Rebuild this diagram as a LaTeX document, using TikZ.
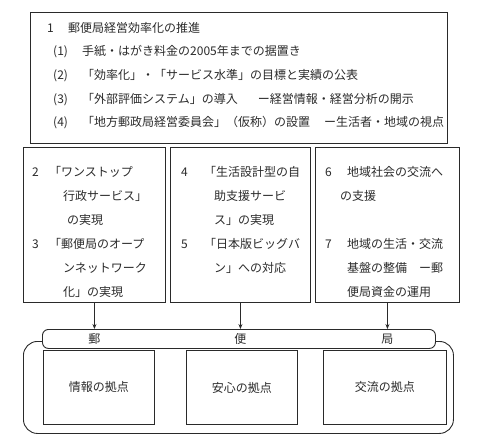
\documentclass[tikz,border=0pt]{standalone}
\usepackage{fontspec}
\setmainfont{Noto Sans CJK JP}
\usetikzlibrary{arrows.meta,positioning,calc}
\definecolor{ink}{HTML}{2a2a2a}

\begin{document}
\begin{tikzpicture}[x=1pt,y=-1pt,
  frame/.style={draw=ink,line width=0.9pt,inner sep=0pt,anchor=north west},
  ln/.style={anchor=west,inner sep=0pt,font=\fontsize{12}{14}\selectfont},
  col/.style={anchor=north west,inner sep=0pt,align=left,font=\fontsize{12}{24}\selectfont},
  hub/.style={frame,minimum height=74pt,font=\fontsize{12}{14}\selectfont},
  arr/.style={-{Stealth[length=5pt,width=4pt]},draw=ink,line width=1pt},
  every node/.style={text=ink}]
 \useasboundingbox (0,0) rectangle (480,444);
 \node[frame,minimum width=417pt,minimum height=131pt] (top) at (30,12) {};
 \node[ln] (t0) at (47,28) {\makebox[21pt][l]{1}郵便局経営効率化の推進};
 \node[ln] (t1) at (53,52) {\makebox[29pt][l]{(1)}手紙・はがき料金の2005年までの据置き};
 \node[ln] (t2) at (53,76) {\makebox[29pt][l]{(2)}「効率化」・「サービス水準」の目標と実績の公表};
 \node[ln] (t3) at (53,100) {\makebox[29pt][l]{(3)}「外部評価システム」の導入\hspace{20pt}ー経営情報・経営分析の開示};
 \node[ln] (t4) at (53,123) {\makebox[29pt][l]{(4)}「地方郵政局経営委員会」（仮称）の設置\hspace{14pt}ー生活者・地域の視点};

 \node[frame,minimum width=142pt,minimum height=155pt] (svc) at (23,147) {};
 \node[frame,minimum width=140pt,minimum height=155pt] (life) at (170,147) {};
 \node[frame,minimum width=144pt,minimum height=155pt] (area) at (315,147) {};
 \node[col] (svct) at (32,166) {\makebox[17pt][l]{2}「ワンストップ\\
   \hspace*{31pt}行政サービス」\\
   \hspace*{35pt}の実現\\
   \makebox[17pt][l]{3}「郵便局のオープ\\
   \hspace*{31pt}ンネットワーク\\
   \hspace*{31pt}化」の実現};
 \node[col] (lifet) at (181,166) {\makebox[23pt][l]{4}「生活設計型の自\\
   \hspace*{33pt}助支援サービ\\
   \hspace*{33pt}ス」の実現\\
   \makebox[23pt][l]{5}「日本版ビッグバ\\
   \hspace*{33pt}ン」への対応};
 \node[col] (areat) at (325,166) {\makebox[22pt][l]{6}地域社会の交流へ\\
   \hspace*{15pt}の支援\\[24pt]
   \makebox[22pt][l]{7}地域の生活・交流\\
   \hspace*{22pt}基盤の整備\hspace{12pt}ー郵\\
   \hspace*{22pt}便局資金の運用};

 \node[frame,rounded corners=14pt,minimum width=430pt,minimum height=92pt] (base) at (23,341) {};
 \node[frame,rounded corners=6pt,fill=white,minimum width=393pt,minimum height=19pt] (ban) at (42,329) {};
 \node[ln,anchor=center] (yu) at (svc.south |- ban) {郵};
 \node[ln,anchor=center] (bin) at (life.south |- ban) {便};
 \node[ln,anchor=center] (kyoku) at (area.south |- ban) {局};
 \draw[arr] (svc.south) -- (svc.south |- ban.north);
 \draw[arr] (life.south) -- (life.south |- ban.north);
 \draw[arr] (area.south) -- (area.south |- ban.north);

 \node[hub,minimum width=111pt] (info) at (43,350) {情報の拠点};
 \node[hub,minimum width=111pt] (safe) at (186,350) {安心の拠点};
 \node[hub,minimum width=123pt] (comm) at (323,350) {交流の拠点};
\end{tikzpicture}
\end{document}
